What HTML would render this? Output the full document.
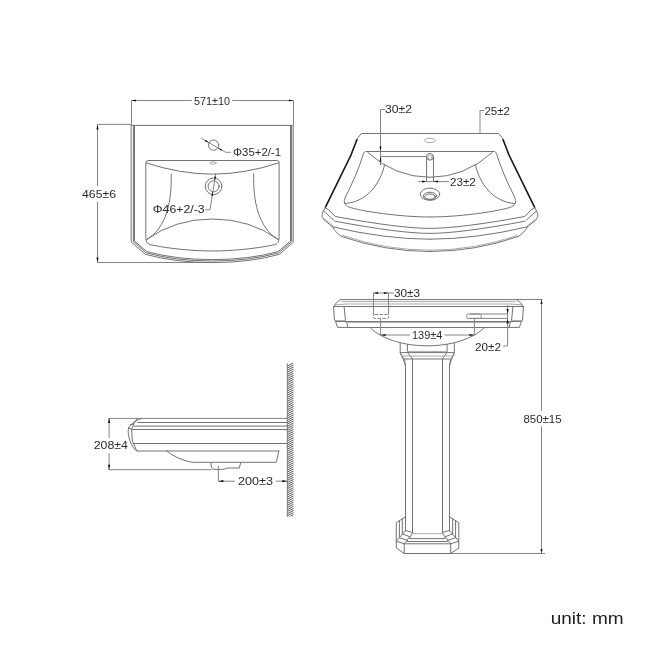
<!DOCTYPE html>
<html>
<head>
<meta charset="utf-8">
<title>Basin dimensions</title>
<style>
html,body{margin:0;padding:0;background:#fff;}
body{width:650px;height:650px;overflow:hidden;position:relative;font-family:"Liberation Sans",sans-serif;}
svg{position:absolute;left:0;top:0;display:block;will-change:transform;}
svg text{font-family:"Liberation Sans",sans-serif;fill:#2b2b2b;}
.l{fill:none;stroke:#727272;stroke-width:1;stroke-linecap:round;stroke-linejoin:round;}
.g{fill:none;stroke:#ababab;stroke-width:1;stroke-linecap:round;stroke-linejoin:round;}
.t{fill:none;stroke:#1c1c1c;stroke-width:1.6;stroke-linecap:round;}
.d{fill:none;stroke:#858585;stroke-width:1;}
.a{fill:#111;stroke:none;}
.dim{font-size:11.2px;}
</style>
</head>
<body>
<svg width="650" height="650" viewBox="0 0 650 650">
<rect x="0" y="0" width="650" height="650" fill="#ffffff"/>

<!-- ================= TOP-LEFT : plan view ================= -->
<g id="plan">
  <!-- dimension 571 -->
  <path class="d" d="M131.5,100.5 H191.8 M232.4,100.5 H293.5 M131.5,100.5 V125 M293.5,100.5 V125"/>
  <path class="a" d="M131.5,100.5 l4.6,-1 v2z M293.5,100.5 l-4.6,-1 v2z"/>
  <!-- dimension 465 -->
  <path class="d" d="M97.5,124.4 V186 M97.5,202 V262.5 M97.5,124.4 H131.5 M97.5,262.5 H209"/>
  <path class="a" d="M97.5,124.4 l-1.1,5 h2.2z M97.5,262.5 l-1.1,-5 h2.2z"/>
  <!-- outer outline -->
  <path class="l" d="M131.5,125.4 H293.2 V242.3 L279.6,254.3 Q250,262.6 212.5,262.6 Q175,262.6 145.4,254.3 L131.5,242.3 Z"/>
  <path class="l" d="M133.4,125.4 V241.6 L146.2,252.8 Q175,261 212.5,261 Q250,261 278.8,252.8 L291.6,241.6 V125.4"/>
  <path class="l" d="M134.5,125.4 V241.1 L146.8,251.6 Q176,259.6 212.5,259.6 Q249,259.6 278.2,251.6 L290.5,241.1 V125.4"/>
  <!-- bowl -->
  <path class="l" d="M148.2,160.5 H276.7 Q279.1,160.5 279.1,163 V237.7 Q279.1,243.5 274.9,244.6 C255,249 230,251 212.45,251 C195,251 170,249 150,244.6 Q145.8,243.5 145.8,237.7 V163 Q145.8,160.5 148.2,160.5 Z"/>
  <!-- back wall -->
  <path class="l" d="M146.5,163 Q180,174 212.45,174.2 Q245,174 278.4,163"/>
  <!-- inner side curves -->
  <path class="l" d="M171.2,174 C172,200 167,228 146.6,239.5"/>
  <path class="l" d="M253.7,174 C252.9,200 257.9,228 278.3,239.5"/>
  <!-- front wall -->
  <path class="l" d="M146.6,239.5 Q175,219 212.45,219 Q250,219 278.3,239.5"/>
  <!-- tap hole -->
  <circle class="l" cx="213.6" cy="145.1" r="5.1" stroke="#5a5a5a"/>
  <path class="d" d="M201.2,138.2 L224.9,151.95 Q225.6,152.3 226.6,152.3 H230.7" stroke="#3c3c3c" stroke-width="0.85"/>
  <path class="a" d="M209.06,142.76 L204.85,141.24 L205.65,139.86 Z M217.89,147.88 L221.3,150.78 L222.1,149.4 Z"/>
  <!-- overflow -->
  <ellipse class="g" cx="213" cy="163" rx="3.2" ry="1.2" stroke="#808080"/>
  <!-- drain -->
  <circle class="l" cx="213.6" cy="186.3" r="8.3" stroke="#5a5a5a"/>
  <circle class="l" cx="213.6" cy="186.3" r="5.5" stroke="#5a5a5a"/>
  <path class="d" d="M215.9,173 L210,209.7 H205.4" stroke="#3c3c3c" stroke-width="0.85"/>
  <path class="a" d="M214.64,180.82 L216.2,176.81 L214.42,176.53 Z M212.9,191.66 L213.12,195.95 L211.34,195.67 Z"/>
  <text class="dim" x="194" y="104.9" textLength="36" lengthAdjust="spacingAndGlyphs">571±10</text>
  <text class="dim" x="82" y="197.9" textLength="34" lengthAdjust="spacingAndGlyphs">465±6</text>
  <text class="dim" x="233" y="155.5" textLength="48" lengthAdjust="spacingAndGlyphs">Φ35+2/-1</text>
  <text class="dim" x="152.8" y="213.1" textLength="51.8" lengthAdjust="spacingAndGlyphs">Φ46+2/-3</text>
</g>

<!-- ================= TOP-RIGHT : perspective view ================= -->
<g id="persp">
  <g>
      <!-- top edge + thin side -->
      <path class="l" d="M430,133.5 H361.4 L357.5,138.2 L351,155 L325.15,207.8 L323.5,211"/>
      <path class="t" d="M356.9,139.8 L351,155 L325.5,207.1"/>
      <!-- rim lines -->
      <path class="l" d="M325.15,207.8 L328.8,209.8 L335.3,216.5 Q400,228.4 430,228.4"/>
      <path class="l" d="M323.5,211 L333.5,220"/>
      <path class="l" d="M334.9,221.2 Q400,233.4 430,233.4"/>
      <path class="l" d="M332.5,226.8 Q385,239.2 430,239.2"/>
      <path class="l" d="M323.5,211 Q321.9,213 322.15,214.5 Q322.2,216.5 322.8,217.7 L324.2,220 L332.5,226.8 L334.9,230.5 Q337.5,234 341.8,236.5 Q385,251.5 430,251.5"/>
      <path class="g" d="M324.9,219.4 L332.9,225.8 M342.5,235.4 Q385,250.2 430,250.2"/>
      <!-- bowl -->
      <path class="l" d="M430,151.5 H365.6 Q364,151.6 363.3,154.2 Q357.05,174.4 345.4,197 Q343.6,201 344.6,203.2 Q345.2,205 347.5,206.3 C352,209.5 395,217 430,217"/>
      <path class="l" d="M367.9,152.6 Q395,177.3 430,177.3"/>
      <path class="l" d="M384.5,164.8 C381,182 368,202 345.4,203.5"/>
    </g>
  <g transform="translate(860,0) scale(-1,1)">
      <!-- top edge + thin side -->
      <path class="l" d="M430,133.5 H361.4 L357.5,138.2 L351,155 L325.15,207.8 L323.5,211"/>
      <path class="t" d="M356.9,139.8 L351,155 L325.5,207.1"/>
      <!-- rim lines -->
      <path class="l" d="M325.15,207.8 L328.8,209.8 L335.3,216.5 Q400,228.4 430,228.4"/>
      <path class="l" d="M323.5,211 L333.5,220"/>
      <path class="l" d="M334.9,221.2 Q400,233.4 430,233.4"/>
      <path class="l" d="M332.5,226.8 Q385,239.2 430,239.2"/>
      <path class="l" d="M323.5,211 Q321.9,213 322.15,214.5 Q322.2,216.5 322.8,217.7 L324.2,220 L332.5,226.8 L334.9,230.5 Q337.5,234 341.8,236.5 Q385,251.5 430,251.5"/>
      <path class="g" d="M324.9,219.4 L332.9,225.8 M342.5,235.4 Q385,250.2 430,250.2"/>
      <!-- bowl -->
      <path class="l" d="M430,151.5 H365.6 Q364,151.6 363.3,154.2 Q357.05,174.4 345.4,197 Q343.6,201 344.6,203.2 Q345.2,205 347.5,206.3 C352,209.5 395,217 430,217"/>
      <path class="l" d="M367.9,152.6 Q395,177.3 430,177.3"/>
      <path class="l" d="M384.5,164.8 C381,182 368,202 345.4,203.5"/>
    </g>
  <!-- tap hole -->
  <ellipse class="g" cx="430" cy="140.4" rx="5.7" ry="2.2" stroke="#666"/>
  <!-- overflow pillar -->
  <circle class="l" cx="430" cy="156.8" r="3.4"/>
  <circle class="g" cx="430" cy="157.2" r="2.1"/>
  <path class="l" d="M426.6,157 V181.6 M433.5,157 V181.6"/>
  <!-- 30±2 -->
  <path class="d" d="M385,109.5 H380.5 V165.3 M380.5,156.5 H427"/>
  <path class="a" d="M380.5,151.2 l-1,-4.6 h2z M380.5,156.8 l-1,4.6 h2z"/>
  <!-- 25±2 -->
  <path class="d" d="M484,110.5 H480 V133.5"/>
  <!-- 23±2 -->
  <path class="d" d="M418,181.6 H449"/>
  <path class="a" d="M426.6,181.6 l-4.6,-1 v2z M433.5,181.6 l4.6,-1 v2z"/>
  <!-- drain -->
  <ellipse class="l" cx="430" cy="194.2" rx="9.7" ry="6.1"/>
  <ellipse class="l" cx="430" cy="196" rx="6.6" ry="3.8"/>
  <ellipse class="l" cx="430" cy="196.6" rx="5.2" ry="2.7"/>
  <text class="dim" x="385" y="113.3" textLength="27" lengthAdjust="spacingAndGlyphs">30±2</text>
  <text class="dim" x="484.4" y="114.5" textLength="25.6" lengthAdjust="spacingAndGlyphs">25±2</text>
  <text class="dim" x="450" y="186.1" textLength="25.7" lengthAdjust="spacingAndGlyphs">23±2</text>
</g>

<!-- ================= BOTTOM-RIGHT : front view with pedestal ================= -->
<g id="front">
  <!-- top line + 850 extension -->
  <path class="l" d="M340.6,299.6 H516.4" stroke="#555"/><path class="d" d="M516.4,299.5 H542.4"/>
  <path class="g" d="M342,301.6 H515 M346.7,304 H510.3 M335.6,304.8 L346.7,304 M521.4,304.8 L510.3,304" stroke-width="1.3"/>
  <path class="l" d="M333.6,306.5 H523.4"/>
  <!-- ends -->
  <path class="l" d="M347.9,327.5 H509.1" stroke="#9a9a9a" stroke-width="1.4"/><path class="l" d="M340.6,299.6 Q336,302 333.6,306.6 L334.4,320.3 L335.6,321.5 L337.6,327.4 H347.9 M509.1,327.4 H519.4 L521.4,321.5 L522.6,320.3 L523.4,306.6 Q521,302 516.4,299.6"/>
  <path class="l" d="M344.1,306.5 L345.5,320.9 L346.6,321.5 L347.9,327.4 M512.9,306.5 L511.5,320.9 L510.4,321.5 L509.1,327.4"/>
  <path class="l" d="M346.6,321.5 H510.4" stroke="#9a9a9a" stroke-width="1.4"/><path class="l" d="M335.6,321.5 H346.6 M510.4,321.5 H521.4"/><path class="g" d="M334.6,320.6 H345.4 M511.6,320.6 H522.4"/>
  <path class="g" d="M346,322.4 H511"/>
  <!-- bowl belly -->
  <path class="l" d="M370,327.4 C378,336 398,345.8 427.25,345.8 C456.5,345.8 476.5,336 484.5,327.4"/>
  <!-- mounting slots -->
  <rect class="d" x="373.3" y="314.5" width="15.5" height="3.9" rx="1.5" stroke-dasharray="3.5 1.3" stroke-width="1.1" stroke="#2a2a2a"/>
  <rect class="d" x="466.6" y="314" width="14.8" height="4.4" rx="1.8" stroke="#777"/>
  <path class="d" d="M470,314 H507.6 M470,318.4 H507.6"/>
  <!-- 30±3 -->
  <path class="d" d="M373.5,293 V314.5 M388.5,293 V314.5 M373.5,293 H394" stroke="#555"/>
  <path class="a" d="M373.5,293 l4.6,-1 v2z M388.5,293 l-4.6,-1 v2z"/>
  <!-- 139±4 -->
  <path class="d" d="M380.6,318.4 V335 M474.4,318.4 V335 M380.6,335 H410 M444.5,335 H474.4"/>
  <path class="a" d="M380.6,335 l5,-1.1 v2.2z M474.4,335 l-5,-1.1 v2.2z"/>
  <!-- 20±2 -->
  <path class="d" d="M507.6,305 V346 H503"/>
  <path class="a" d="M507.6,314 l-1.1,-5 h2.2z M507.6,318.4 l-1.1,5 h2.2z"/>
  <!-- 850 -->
  <path class="d" d="M541.5,299.5 V410.8 M541.5,426.4 V553.5 M437,553.5 H545"/>
  <path class="a" d="M541.5,299.5 l-1,4.6 h2z M541.5,553.5 l-1,-4.6 h2z"/>
  <!-- pedestal collar -->
  <path class="l" d="M400.2,343.2 V352.3 L405.5,364.8 V530.8 M454.3,343.2 V352.3 L449.5,364.8 V530.8"/>
  <path class="l" d="M401,354.5 L404.6,359.6 L405.3,366 M454,354.5 L450.4,359.6 L449.7,366" stroke-width="0.8"/>
  <path class="l" d="M407.4,344.5 V352.3 L412.5,358.6 V533 M447.1,344.5 V352.3 L442.5,358.6 V533"/>
  <path class="l" d="M400.2,352.6 H454.3 M404.4,359 H450"/>
  <path class="g" d="M407.4,351.4 H447.1 M402,356 H452.5"/>
  <!-- base -->
  <path class="l" d="M405.2,517 L396.3,522.7 V548 L404.2,553.5 H450.7 L458.8,548 V522.7 L449.7,517"/>
  <path class="l" d="M399.4,520.4 V537.7 M402.3,518.5 V533.8 M455.6,520.4 V537.7 M452.7,518.5 V533.8"/>
  <path class="l" d="M405.2,530.8 L396.3,541.2 L404.2,543.8 L412.7,533 Z M449.6,530.8 L458.8,541.2 L450.7,543.8 L442.3,533 Z"/>
  <path class="l" d="M402.3,533.8 L410.4,537 M399.4,537.7 L407.5,540.4 M452.7,533.8 L444.6,537 M455.6,537.7 L447.5,540.4"/>
  <path class="g" d="M412.7,533.7 H441.8"/>
  <path class="l" d="M409.5,538.6 H445 M407,541.5 H447.5 M404.2,543.8 H450.7 M404.2,543.8 V553.5 M450.7,543.8 V553.5"/>
  <text class="dim" x="394" y="297.3" textLength="26" lengthAdjust="spacingAndGlyphs">30±3</text>
  <text class="dim" x="412" y="338.9" textLength="30.4" lengthAdjust="spacingAndGlyphs">139±4</text>
  <text class="dim" x="475" y="351.3" textLength="26" lengthAdjust="spacingAndGlyphs">20±2</text>
  <text class="dim" x="523.4" y="422.9" textLength="38.2" lengthAdjust="spacingAndGlyphs">850±15</text>
</g>

<!-- ================= BOTTOM-LEFT : side view ================= -->
<g id="side">
  <clipPath id="wc"><rect x="287.3" y="363" width="6.4" height="153.5"/></clipPath>
  <filter id="sb" x="-20%" y="-2%" width="140%" height="104%"><feGaussianBlur stdDeviation="0.45"/></filter>
  <g clip-path="url(#wc)"><path filter="url(#sb)" d="M287.3,366.00 l6.4,-3.2 M287.3,368.08 l6.4,-3.2 M287.3,370.16 l6.4,-3.2 M287.3,372.24 l6.4,-3.2 M287.3,374.32 l6.4,-3.2 M287.3,376.40 l6.4,-3.2 M287.3,378.48 l6.4,-3.2 M287.3,380.56 l6.4,-3.2 M287.3,382.64 l6.4,-3.2 M287.3,384.72 l6.4,-3.2 M287.3,386.80 l6.4,-3.2 M287.3,388.88 l6.4,-3.2 M287.3,390.96 l6.4,-3.2 M287.3,393.04 l6.4,-3.2 M287.3,395.12 l6.4,-3.2 M287.3,397.20 l6.4,-3.2 M287.3,399.28 l6.4,-3.2 M287.3,401.36 l6.4,-3.2 M287.3,403.44 l6.4,-3.2 M287.3,405.52 l6.4,-3.2 M287.3,407.60 l6.4,-3.2 M287.3,409.68 l6.4,-3.2 M287.3,411.76 l6.4,-3.2 M287.3,413.84 l6.4,-3.2 M287.3,415.92 l6.4,-3.2 M287.3,418.00 l6.4,-3.2 M287.3,420.08 l6.4,-3.2 M287.3,422.16 l6.4,-3.2 M287.3,424.24 l6.4,-3.2 M287.3,426.32 l6.4,-3.2 M287.3,428.40 l6.4,-3.2 M287.3,430.48 l6.4,-3.2 M287.3,432.56 l6.4,-3.2 M287.3,434.64 l6.4,-3.2 M287.3,436.72 l6.4,-3.2 M287.3,438.80 l6.4,-3.2 M287.3,440.88 l6.4,-3.2 M287.3,442.96 l6.4,-3.2 M287.3,445.04 l6.4,-3.2 M287.3,447.12 l6.4,-3.2 M287.3,449.20 l6.4,-3.2 M287.3,451.28 l6.4,-3.2 M287.3,453.36 l6.4,-3.2 M287.3,455.44 l6.4,-3.2 M287.3,457.52 l6.4,-3.2 M287.3,459.60 l6.4,-3.2 M287.3,461.68 l6.4,-3.2 M287.3,463.76 l6.4,-3.2 M287.3,465.84 l6.4,-3.2 M287.3,467.92 l6.4,-3.2 M287.3,470.00 l6.4,-3.2 M287.3,472.08 l6.4,-3.2 M287.3,474.16 l6.4,-3.2 M287.3,476.24 l6.4,-3.2 M287.3,478.32 l6.4,-3.2 M287.3,480.40 l6.4,-3.2 M287.3,482.48 l6.4,-3.2 M287.3,484.56 l6.4,-3.2 M287.3,486.64 l6.4,-3.2 M287.3,488.72 l6.4,-3.2 M287.3,490.80 l6.4,-3.2 M287.3,492.88 l6.4,-3.2 M287.3,494.96 l6.4,-3.2 M287.3,497.04 l6.4,-3.2 M287.3,499.12 l6.4,-3.2 M287.3,501.20 l6.4,-3.2 M287.3,503.28 l6.4,-3.2 M287.3,505.36 l6.4,-3.2 M287.3,507.44 l6.4,-3.2 M287.3,509.52 l6.4,-3.2 M287.3,511.60 l6.4,-3.2 M287.3,513.68 l6.4,-3.2 M287.3,515.76 l6.4,-3.2 M287.3,517.84 l6.4,-3.2 M287.3,519.92 l6.4,-3.2" stroke="#4a4a4a" stroke-width="0.9" fill="none"/></g>
  <path class="l" d="M287.3,363.8 V516.5"/>
  <!-- 208 -->
  <path class="d" d="M109.1,418.4 V438 M109.1,453 V469.7 M108.3,418.4 H287.3 M108.3,469.7 H211.7"/>
  <path class="a" d="M109.1,418.1 l-1.1,5 h2.2z M109.1,469.7 l-1.1,-5 h2.2z"/>
  <!-- rim lines -->
  <path class="l" d="M137.8,422.5 H287.3 M134,426.1 H287.3 M131.3,429.5 H287.3 M133,443.5 H287.3 M137.2,451 H278.8"/>
  
  <!-- front profile -->
  <path class="l" d="M141.5,418.4 Q133,421.5 128.6,427.8 Q127.8,431 128.4,434.8 L130.2,441.8 Q131.5,445 133.5,447.7 Q135,450.3 137.2,451"/>
  <path class="l" d="M137.2,418.4 Q133.5,422.5 131.6,429.4 L132.4,441.2 L133.5,443.4 L136.2,449.8"/>
  <path class="l" d="M128.6,427.8 L131.6,429.4 M130.5,424.7 L134,424.1"/>
  <!-- bowl -->
  <path class="l" d="M166.8,451 Q177,459.5 192.3,462.3 H276.3 L278.8,451"/>
  <!-- drain -->
  <path class="l" d="M210.8,462.3 Q211,469.2 214,469.4 H222 Q225.5,469.2 227,468 H239.3 L240.8,462.3"/>
  <!-- 200 -->
  <path class="d" d="M218.4,466 V481.2 H235 M276,481.2 H287.3"/>
  <path class="a" d="M218.4,481.2 l5,-1.1 v2.2z M287.3,481.2 l-5,-1.1 v2.2z"/>
  <text class="dim" x="93.7" y="449.3" textLength="34.3" lengthAdjust="spacingAndGlyphs">208±4</text>
  <text class="dim" x="237.9" y="484.9" textLength="35.1" lengthAdjust="spacingAndGlyphs">200±3</text>
</g>

<text x="550.7" y="624.2" fill="#1e1e1e" style="fill:#1e1e1e" font-size="17.3" textLength="72.9" lengthAdjust="spacingAndGlyphs">unit: mm</text>
</svg>
</body>
</html>
